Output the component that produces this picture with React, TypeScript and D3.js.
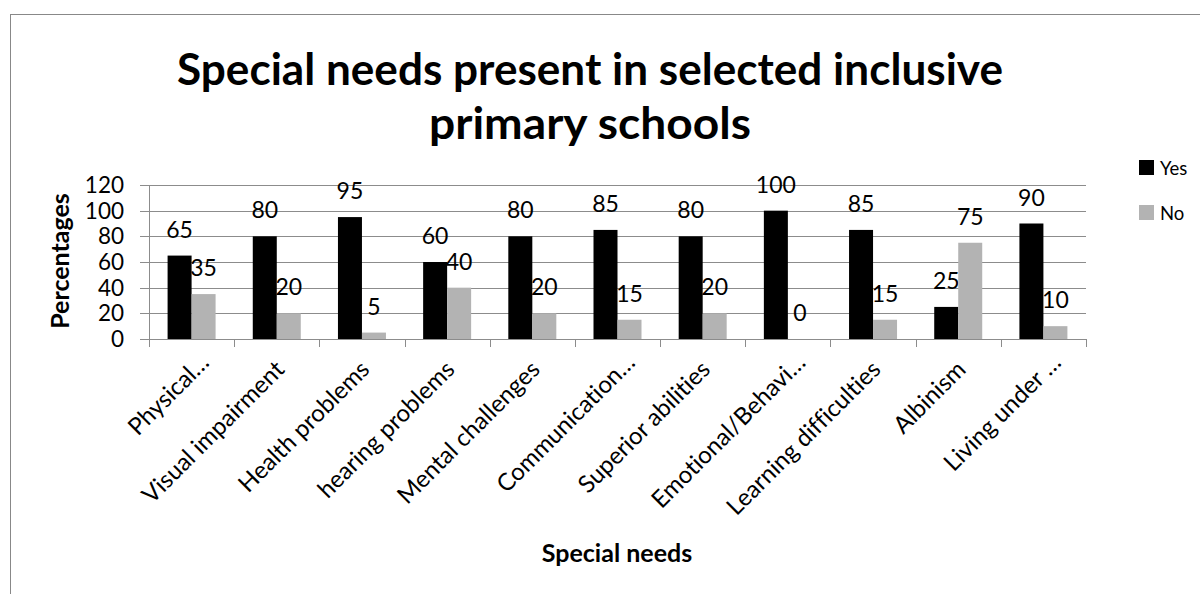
import React from "react";
import * as d3 from "d3";

const categories = [
  "Physical…",
  "Visual impairment",
  "Health problems",
  "hearing problems",
  "Mental challenges",
  "Communication…",
  "Superior abilities",
  "Emotional/Behavi…",
  "Learning difficulties",
  "Albinism",
  "Living under …",
];
const yesValues = [65, 80, 95, 60, 80, 85, 80, 100, 85, 25, 90];
const noValues = [35, 20, 5, 40, 20, 15, 20, 0, 15, 75, 10];
const seriesNames = ["Yes", "No"];
const seriesColors = ["#000000", "#b3b3b3"];
const yTicks = [0, 20, 40, 60, 80, 100, 120];
const titleLines = ["Special needs present in selected inclusive", "primary schools"];
const xTitle = "Special needs";
const yTitle = "Percentages";

const W = 1200;
const H = 594;
const plot = { left: 149, right: 1086, top: 185, bottom: 339 };
const FONT = "Lato, 'Open Sans', sans-serif";

export default function App() {
  const x = d3
    .scaleBand<string>()
    .domain(categories)
    .range([plot.left, plot.right])
    .paddingInner(0)
    .paddingOuter(0);
  const barW = 24;
  const y = d3.scaleLinear().domain([0, 120]).range([plot.bottom, plot.top]);
  const series = [yesValues, noValues];
  const grid = "#8c8c8c";
  const titleWidths = [826, 322];

  return (
    <svg
      width={W}
      height={H}
      style={{ position: "absolute", left: 0, top: 0, background: "#fff", fontVariantLigatures: "none" }}
      fontFamily={FONT}
    >
      <rect x={0} y={0} width={W} height={H} fill="#fff" />
      <rect x={10.5} y={14.5} width={W + 20} height={H + 20} fill="none" stroke="#888" strokeWidth={1} />

      {titleLines.map((t, i) => (
        <text
          key={t}
          x={590}
          y={85 + i * 54}
          textAnchor="middle"
          fontWeight="bold"
          fontSize={43}
          fill="#000"
          textLength={titleWidths[i]}
          lengthAdjust="spacingAndGlyphs"
        >
          {t}
        </text>
      ))}

      {/* gridlines */}
      {yTicks.map((t) => (
        <g key={t}>
          <line
            x1={plot.left - 9}
            x2={plot.right}
            y1={Math.round(y(t)) + 0.5}
            y2={Math.round(y(t)) + 0.5}
            stroke={grid}
            strokeWidth={1}
          />
          <text
            x={124}
            y={y(t)}
            dy="0.35em"
            textAnchor="end"
            fontSize={22.5}
            fill="#000"
          >
            {t}
          </text>
        </g>
      ))}
      {/* y axis line */}
      <line x1={plot.left + 0.5} x2={plot.left + 0.5} y1={plot.top} y2={plot.bottom} stroke={grid} />

      {/* bars */}
      {categories.map((c, i) => {
        const cx = (x(c) as number) + x.bandwidth() / 2;
        return (
          <g key={c}>
            {series.map((vals, s) => {
              const bx = cx - barW + s * barW;
              const top = y(vals[i]);
              return (
                <g key={s}>
                  <rect x={bx} y={top} width={barW} height={plot.bottom - top} fill={seriesColors[s]} />
                  <text
                    x={bx + barW / 2}
                    y={top - 18}
                    textAnchor="middle"
                    fontSize={23}
                    fill="#000"
                  >
                    {vals[i]}
                  </text>
                </g>
              );
            })}
          </g>
        );
      })}

      {/* x axis */}
      <line x1={plot.left} x2={plot.right + 0.5} y1={plot.bottom + 0.5} y2={plot.bottom + 0.5} stroke={grid} />
      {d3.range(categories.length + 1).map((k) => {
        const xx = Math.round(plot.left + k * x.bandwidth()) + 0.5;
        return <line key={k} x1={xx} x2={xx} y1={plot.bottom} y2={plot.bottom + 8} stroke={grid} />;
      })}
      {categories.map((c) => {
        const cx = (x(c) as number) + x.bandwidth() / 2;
        const truncated = c.endsWith("…");
        const dx = truncated ? 19 : 9;
        const ty = truncated ? 364 : 371;
        return (
          <text
            key={c}
            transform={`translate(${cx + dx},${ty}) rotate(-45)`}
            textAnchor="end"
            fontSize={24}
            fill="#000"
          >
            {c}
          </text>
        );
      })}

      {/* axis titles */}
      <text
        x={617}
        y={562}
        textAnchor="middle"
        fontWeight="bold"
        fontSize={25}
        fill="#000"
      >
        {xTitle}
      </text>
      <text
        transform={`translate(69,261) rotate(-90)`}
        textAnchor="middle"
        fontWeight="bold"
        fontSize={25}
        fill="#000"
      >
        {yTitle}
      </text>

      {/* legend */}
      {seriesNames.map((n, i) => (
        <g key={n} transform={`translate(1139,${160 + i * 45})`}>
          <rect x={0} y={0} width={15} height={15} fill={seriesColors[i]} />
          <text x={21} y={15} fontSize={18.5} fill="#000">
            {n}
          </text>
        </g>
      ))}
    </svg>
  );
}
